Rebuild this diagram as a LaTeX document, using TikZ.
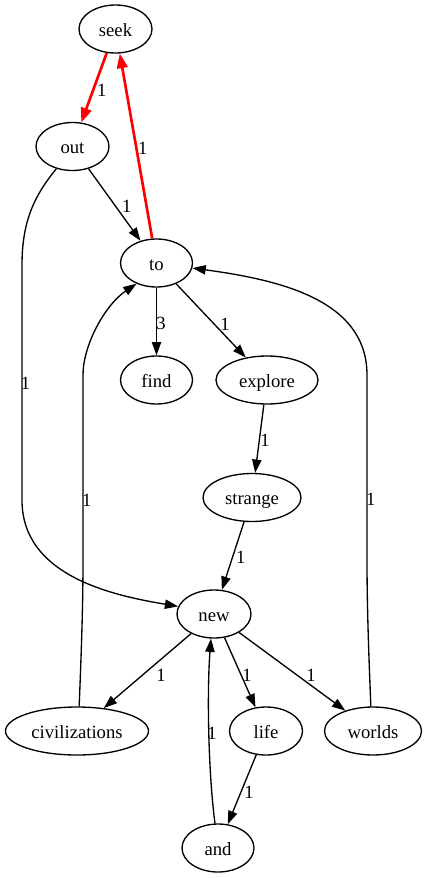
\documentclass[tikz,border=0pt]{standalone}
\usepackage{fontspec}
\setmainfont{Liberation Serif}
\usetikzlibrary{arrows.meta,shapes.geometric}
\tikzstyle{word}=[ellipse,draw,line width=1pt,minimum width=54pt,minimum height=36pt,inner sep=0pt,text height=11pt,text depth=0pt,font=\fontsize{14}{16}\selectfont]
\tikzstyle{edge}=[draw,line width=1pt,-{Triangle[length=10pt,width=7pt]}]
\tikzstyle{hot edge}=[edge,red,line width=2pt,-{Triangle[length=11pt,width=8pt]}]
\tikzstyle{weight}=[inner sep=0pt,font=\fontsize{14}{16}\selectfont]
\begin{document}
\begin{tikzpicture}[x=0.75pt,y=-0.75pt]
    \useasboundingbox (0,0) rectangle (428,878);
    % First we draw the words
    \foreach \pos/\name/\wordwidth in {{(115.5,29)/seek/54.75}, {(72.5,146.5)/out/54.75}, {(156.5,263)/to/54},
        {(156.5,380)/find/54}, {(267,380)/explore/76.5}, {(252,497.5)/strange/73.5},
        {(214,614)/new/55.5}, {(77,731)/civilizations/107.25}, {(266,731)/life/54.75},
        {(373,731)/worlds/72.75}, {(218,848)/and/54}}
        \node[word,minimum width=\wordwidth pt] (\name) at \pos {\name};

    % Connect words with edges
    \path[hot edge] (seek) -- (out);
    \path[hot edge] (to) -- (seek);
    \foreach \source/ \dest in {out/to, to/find, to/explore, explore/strange, strange/new,
        new/civilizations, new/life, new/worlds, life/and}
        \path[edge] (\source) -- (\dest);
    \path[edge] (out.234) .. controls (35,195) and (22,220) .. (22,265) -- (22,500)
        .. controls (22,575) and (110,595) .. (new.168);
    \path[edge] (civilizations.85) .. controls (81,660) and (83,610) .. (83,560) -- (83,375)
        .. controls (83,345) and (105,305) .. (to.226);
    \path[edge] (worlds.95) .. controls (369,660) and (367,610) .. (367,560) -- (367,375)
        .. controls (367,300) and (280,280) .. (to.352);
    \path[edge] (and.97) .. controls (208,770) and (207,690) .. (new.263);

    % Edge weights
    \foreach \pos/\name/\txt in {{(101.7,90)/w-seek-out/1}, {(142.7,148.3)/w-to-seek/1}, {(126.7,206.7)/w-out-to/1},
        {(25.5,383)/w-out-new/1}, {(161,323)/w-to-find/3}, {(225,324)/w-to-explore/1},
        {(265,440)/w-explore-strange/1}, {(240.7,557)/w-strange-new/1}, {(86.7,500)/w-civilizations-to/1},
        {(370.7,499.3)/w-worlds-to/1}, {(161,675)/w-new-civilizations/1}, {(247,675)/w-new-life/1},
        {(311,675)/w-new-worlds/1}, {(212,733)/w-and-new/1}, {(249,792)/w-life-and/1}}
        \node[weight] (\name) at \pos {\txt};
\end{tikzpicture}
\end{document}
